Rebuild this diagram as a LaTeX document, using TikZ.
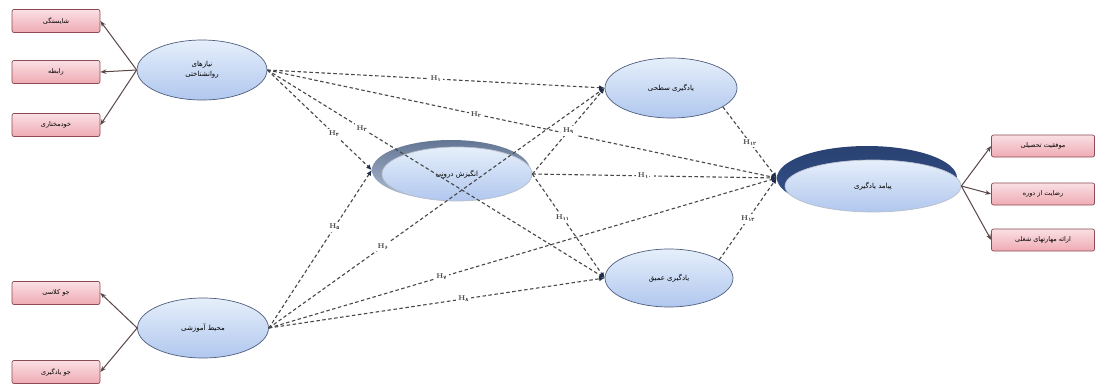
\documentclass[tikz,border=0pt]{standalone}
\usepackage{fontspec}
\TeXXeTstate=1
\newfontfamily\arabicfont[Script=Arabic]{DejaVu Sans}
\usetikzlibrary{shapes.geometric,arrows.meta}
\definecolor{elltop}{HTML}{E6EFFB}
\definecolor{ellbot}{HTML}{B0C7EE}
\definecolor{ellborder}{HTML}{4F5E7E}
\definecolor{boxtop}{HTML}{FAE0E3}
\definecolor{boxbot}{HTML}{EFAAB3}
\definecolor{boxborder}{HTML}{8C4B55}
\definecolor{arrcol}{HTML}{5A4646}
\definecolor{dashcol}{HTML}{474747}
\definecolor{tipcol}{HTML}{1E2D4A}
\definecolor{motdark}{HTML}{7C93B8}
\definecolor{outdark}{HTML}{34528E}
\newcommand{\fa}[1]{{\arabicfont\beginR #1\endR}}
\newcommand{\hy}[1]{H\textsubscript{\arabicfont #1}}
\begin{document}
\begin{tikzpicture}[x=1pt,y=-1pt,
 ell/.style={ellipse, draw=ellborder, line width=0.7pt, top color=elltop, bottom color=ellbot, inner sep=0pt, font=\fontsize{7}{10}\selectfont, align=center},
 ind/.style={rectangle, rounded corners=2pt, draw=boxborder, line width=0.7pt, top color=boxtop, bottom color=boxbot, minimum width=88pt, minimum height=23pt, inner sep=0pt, font=\fontsize{6.5}{8}\selectfont},
 rind/.style={ind, minimum width=103pt, minimum height=22pt},
 refl/.style={-{Stealth[length=6pt,width=4.5pt]}, draw=arrcol, line width=1pt},
 hyp/.style={dash pattern=on 3.5pt off 2.5pt, draw=dashcol, line width=1.1pt, -{Latex[length=5.5pt,width=5pt,color=tipcol]}},
 lab/.style={fill=white, inner sep=2pt, font=\fontsize{7}{8}\selectfont\bfseries, text=dashcol}
]
\fill[white] (0,0) rectangle (1112,388);
\useasboundingbox (0,0) rectangle (1112,388);

% indicator boxes left
\node[ind] (b1) at (56,21) {\fa{شایستگی}};
\node[ind] (b2) at (56,72) {\fa{رابطه}};
\node[ind] (b3) at (56,125) {\fa{خودمختاری}};
\node[ind] (b4) at (56,293) {\fa{جو کلاسی}};
\node[ind] (b5) at (56,372) {\fa{جو یادگیری}};

% indicator boxes right
\node[rind] (r1) at (1043,146) {\fa{موفقیت تحصیلی}};
\node[rind] (r2) at (1043,194) {\fa{رضایت از دوره}};
\node[rind] (r3) at (1043,240) {\fa{ارائه مهارتهای شغلی}};

% constructs
\node[ell, minimum width=130pt, minimum height=60pt] (needs) at (202,70) {\fa{نیازهای}\\\fa{روانشناختی}};
\node[ell, minimum width=131pt, minimum height=60pt] (env) at (203,328) {\fa{محیط آموزشی}};
\node[ellipse, top color=motdark!80!black, bottom color=motdark!60, minimum width=158pt, minimum height=60pt, inner sep=0pt] (motback) at (451,170) {};
\node[ell, draw=ellborder!40, minimum width=150pt, minimum height=54pt] (mot) at (457,174) {\fa{انگیزش درونی}};
\node[ell, minimum width=132pt, minimum height=60pt] (surf) at (671,88) {\fa{یادگیری سطحی}};
\node[ell, minimum width=128pt, minimum height=58pt] (deep) at (669,278) {\fa{یادگیری عمیق}};
\node[ellipse, top color=outdark!80!black, bottom color=outdark, minimum width=180pt, minimum height=64pt, inner sep=0pt] (outback) at (867,178) {};
\node[ell, draw=ellborder!40, minimum width=176pt, minimum height=52pt] (out) at (873,186) {\fa{پیامد یادگیری}};

% reflective indicators
\draw[refl] (needs.west) -- (b1.east);
\draw[refl] (needs.west) -- (b2.east);
\draw[refl] (needs.west) -- (b3.east);
\draw[refl] (env.west) -- (b4.east);
\draw[refl] (env.west) -- (b5.east);
\draw[refl] (out.east) -- (r1.west);
\draw[refl] (out.east) -- (r2.west);
\draw[refl] (out.east) -- (r3.west);

% hypotheses
\draw[hyp] (needs.east) -- node[lab,pos=0.5] {\hy{۱}} (surf.west);
\draw[hyp] (needs.east) -- node[lab,pos=0.41] {\hy{۲}} (outback.west);
\draw[hyp] (needs.east) -- node[lab,pos=0.28] {\hy{۳}} (deep.west);
\draw[hyp] (needs.east) -- node[lab,pos=0.64] {\hy{۴}} (motback.west);
\draw[hyp] (env.east) -- node[lab,pos=0.64] {\hy{۵}} (motback.west);
\draw[hyp] (env.east) -- node[lab,pos=0.34] {\hy{۶}} (surf.west);
\draw[hyp] (env.east) -- node[lab,pos=0.34] {\hy{۷}} (outback.west);
\draw[hyp] (env.east) -- node[lab,pos=0.58] {\hy{۸}} (deep.west);
\draw[hyp] (mot.east) -- node[lab,pos=0.5] {\hy{۹}} (surf.west);
\draw[hyp] (mot.east) -- node[lab,pos=0.46] {\hy{۱۰}} (outback.west);
\draw[hyp] (mot.east) -- node[lab,pos=0.42] {\hy{۱۱}} (deep.west);
\draw[hyp] (surf.-20) -- node[lab,pos=0.5] {\hy{۱۲}} (outback.west);
\draw[hyp] (deep.20) -- node[lab,pos=0.5] {\hy{۱۳}} (outback.west);
\end{tikzpicture}
\end{document}
